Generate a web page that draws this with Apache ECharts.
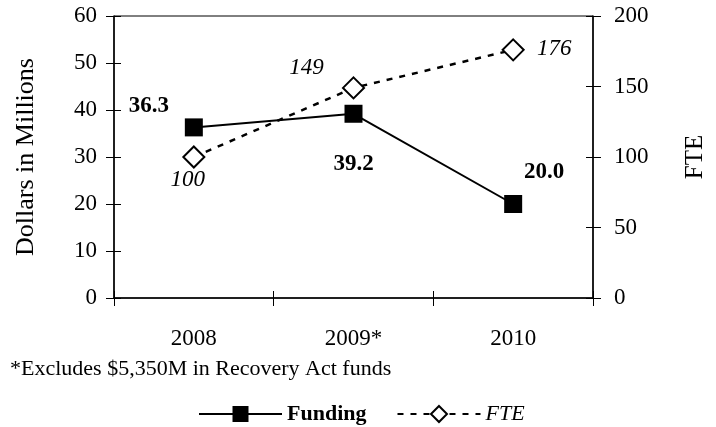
<!DOCTYPE html>
<html>
<head>
<meta charset="utf-8">
<script src="https://cdn.jsdelivr.net/npm/echarts@6/dist/echarts.min.js"></script>
<style>
html,body{margin:0;padding:0;background:#fff;}
#chart{width:716px;height:427px;}
</style>
</head>
<body>
<div id="chart"></div>
<script>
const categories = ['2008', '2009*', '2010'];
const funding = [36.3, 39.2, 20.0];
const fte = [100, 149, 176];
const leftAxisRange = { min: 0, max: 60, interval: 10 };
const rightAxisRange = { min: 0, max: 200, interval: 50 };
const footnote = '*Excludes $5,350M in Recovery Act funds';

const fundingLabelOffsets = [[-45, -21], [0, 50], [31, -32]];
const fteLabelOffsets = [[-6, 23], [-47, -20], [41, -1]];

const FONT = '"Liberation Serif", "Times New Roman", serif';
const BLACK = '#000';

const chart = echarts.init(document.getElementById('chart'), null, { renderer: 'canvas' });

function yAxisPair(range, position, labelMargin, name, nameGap, nameSize, nameRotate) {
  return [
    {
      type: 'value', position: position, min: range.min, max: range.max, interval: range.interval,
      name: name, nameLocation: 'middle', nameGap: nameGap, nameRotate: nameRotate,
      nameTextStyle: { fontFamily: FONT, fontSize: nameSize, color: BLACK },
      axisLine: { show: true, lineStyle: { color: BLACK, width: 1.5 } },
      axisTick: { show: true, inside: false, length: 8, lineStyle: { color: BLACK, width: 1 } },
      axisLabel: { margin: labelMargin, fontFamily: FONT, fontSize: 23, color: BLACK },
      splitLine: { show: false }
    },
    {
      type: 'value', position: position, min: range.min, max: range.max, interval: range.interval,
      axisLine: { show: false },
      axisTick: { show: true, inside: true, length: 7, lineStyle: { color: BLACK, width: 1 } },
      axisLabel: { show: false },
      splitLine: { show: false }
    }
  ];
}

const yAxes = yAxisPair(leftAxisRange, 'left', 17, 'Dollars in Millions', 75, 26, 90)
  .concat(yAxisPair(rightAxisRange, 'right', 21, 'FTE', 90, 25, 90));

const option = {
  animation: false,
  backgroundColor: '#fff',
  grid: { left: 114, right: 118, top: 16, bottom: 129, show: true, borderColor: BLACK, borderWidth: 1, backgroundColor: 'transparent' },
  xAxis: [
    {
      type: 'category', data: categories, boundaryGap: true, position: 'bottom',
      axisLine: { show: true, lineStyle: { color: BLACK, width: 1.5 } },
      axisTick: { show: true, inside: false, length: 8, lineStyle: { color: BLACK, width: 1 } },
      axisLabel: { margin: 29, fontFamily: FONT, fontSize: 23, color: BLACK }
    },
    {
      type: 'category', data: categories, boundaryGap: true, position: 'bottom',
      axisLine: { show: false },
      axisTick: { show: true, inside: true, length: 7, lineStyle: { color: BLACK, width: 1 } },
      axisLabel: { show: false }
    }
  ],
  yAxis: yAxes,
  legend: {
    left: 193, top: 398, itemWidth: 83, itemHeight: 20, itemGap: 30,
    textStyle: { fontFamily: FONT, fontSize: 22, color: BLACK },
    data: [
      { name: 'Funding', textStyle: { fontWeight: 'bold' } },
      { name: 'FTE', textStyle: { fontStyle: 'italic' } }
    ]
  },
  graphic: [
    { type: 'text', left: 10, top: 358, style: { text: footnote, font: '22px ' + FONT, fill: BLACK } }
  ],
  series: [
    {
      name: 'Funding', type: 'line', xAxisIndex: 0, yAxisIndex: 0,
      symbol: 'rect', symbolSize: 18,
      itemStyle: { color: BLACK },
      lineStyle: { color: BLACK, width: 2 },
      z: 3,
      data: funding.map((v, i) => ({
        value: v,
        label: { show: true, position: 'inside', offset: fundingLabelOffsets[i] }
      })),
      label: {
        show: true, fontFamily: FONT, fontSize: 23, fontWeight: 'bold', color: BLACK,
        formatter: p => Number(p.value).toFixed(1)
      }
    },
    {
      name: 'FTE', type: 'line', xAxisIndex: 0, yAxisIndex: 2,
      symbol: 'diamond', symbolSize: [21, 21],
      itemStyle: { color: '#fff', borderColor: BLACK, borderWidth: 2 },
      lineStyle: { color: BLACK, width: 2.5, type: [6, 7] },
      z: 4,
      data: fte.map((v, i) => ({
        value: v,
        label: { show: true, position: 'inside', offset: fteLabelOffsets[i] }
      })),
      label: {
        show: true, fontFamily: FONT, fontSize: 23, fontStyle: 'italic', color: BLACK,
        formatter: p => String(p.value)
      }
    }
  ]
};
chart.setOption(option);
</script>
</body>
</html>
